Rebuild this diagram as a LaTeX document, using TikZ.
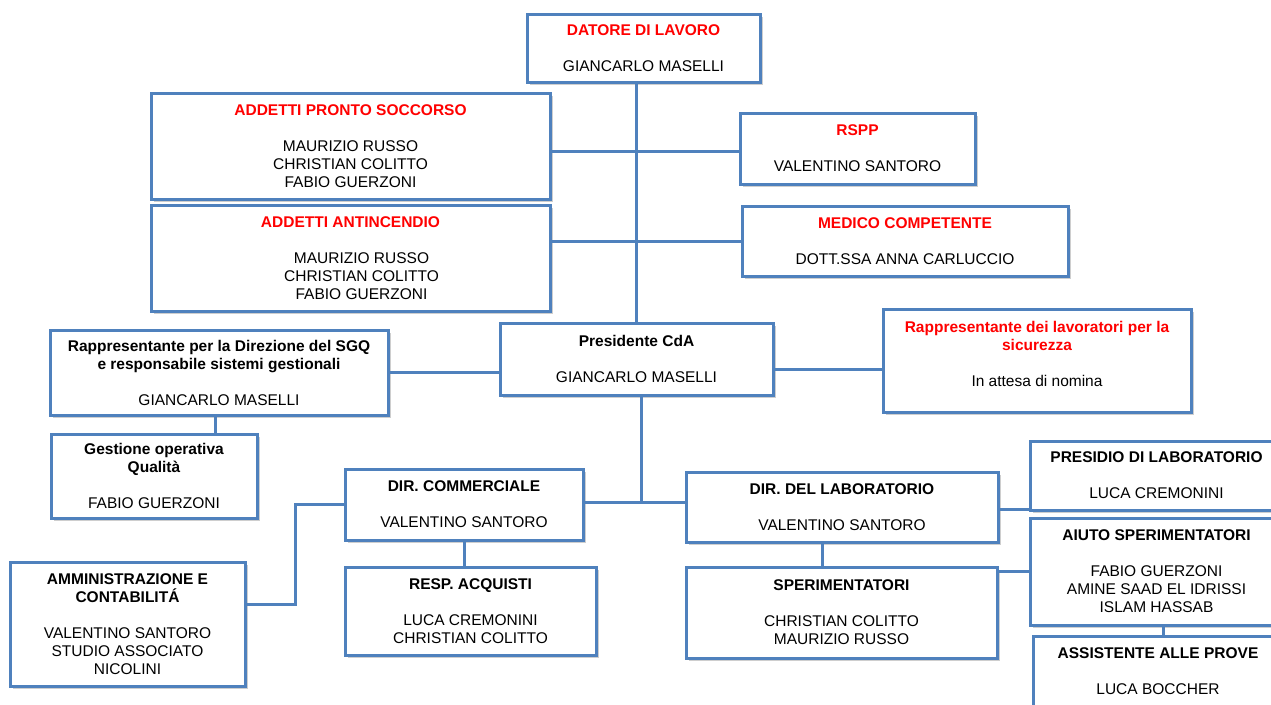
\documentclass[tikz,border=0pt]{standalone}
\usepackage{fontspec}
\setmainfont{Liberation Sans}
\usetikzlibrary{shadows}
\definecolor{boxblue}{RGB}{79,129,189}
\definecolor{titlered}{RGB}{255,0,0}
\newcommand{\rtitle}[1]{\textcolor{titlered}{\bfseries #1}}
\newcommand{\btitle}[1]{{\bfseries #1}}
\tikzset{
  box/.style={draw=boxblue, line width=3pt, fill=white, align=center, inner sep=0pt,
    font=\fontsize{15.5}{18}\selectfont,
    drop shadow={shadow xshift=3pt, shadow yshift=-3pt, fill=black!38}},
  conn/.style={draw=boxblue, line width=3pt}
}
\begin{document}
\begin{tikzpicture}[x=1pt, y=-1pt]
\useasboundingbox (0,0) rectangle (1271,704);
\fill[white] (0,0) rectangle (1271,704);
\clip (0,0) rectangle (1271,704);

% coordinates for connector routes
\coordinate (rlsy) at (0,369);
\coordinate (jn) at (641,502);
\coordinate (cb) at (295,604);
\coordinate (sgqx) at (215,0);
\coordinate (labx) at (822,0);
\coordinate (prey) at (0,509);
\coordinate (asx) at (1163,0);
\coordinate (toppy) at (0,151);

% boxes
\node[box, minimum width=233pt, minimum height=68pt] (dat) at (643.5,48)
  {\rtitle{DATORE DI LAVORO}\\[18pt] GIANCARLO MASELLI};
\node[box, minimum width=399pt, minimum height=106pt] (ps) at (350.5,146)
  {\rtitle{ADDETTI PRONTO SOCCORSO}\\[18pt] MAURIZIO RUSSO\\ CHRISTIAN COLITTO\\ FABIO GUERZONI};
\node[box, minimum width=399pt, minimum height=106pt] (anti) at (350.5,258)
  {\rtitle{ADDETTI ANTINCENDIO}\\[18pt] \hspace*{22pt}MAURIZIO RUSSO\\ \hspace*{22pt}CHRISTIAN COLITTO\\ \hspace*{22pt}FABIO GUERZONI};
\node[box, minimum width=235pt, minimum height=71pt] (rspp) at (857.5,148.5)
  {\rtitle{RSPP}\\[18pt] VALENTINO SANTORO};
\node[box, minimum width=326pt, minimum height=70pt] (med) at (905,241)
  {\rtitle{MEDICO COMPETENTE}\\[18pt] DOTT.SSA ANNA CARLUCCIO};
\node[box, minimum width=273pt, minimum height=72pt] (pres) at (636.5,359)
  {\btitle{Presidente CdA}\\[18pt] GIANCARLO MASELLI};
\node[box, minimum width=338pt, minimum height=85pt] (sgq) at (219,372.5)
  {\btitle{Rappresentante per la Direzione del SGQ}\\ \btitle{e responsabile sistemi gestionali}\\[18pt] GIANCARLO MASELLI};
\node[box, minimum width=308pt, minimum height=103pt] (rls) at (1037,360.5)
  {\rtitle{Rappresentante dei lavoratori per la}\\ \rtitle{sicurezza}\\[18pt] In attesa di nomina\\[-4pt]};
\node[box, minimum width=206pt, minimum height=84pt] (ges) at (154,476)
  {\btitle{Gestione operativa}\\ \btitle{Qualità}\\[18pt] FABIO GUERZONI};
\node[box, minimum width=238pt, minimum height=71pt] (dircomm) at (464,504.5)
  {\btitle{DIR. COMMERCIALE}\\[18pt] VALENTINO SANTORO};
\node[box, minimum width=312pt, minimum height=70pt] (dirlab) at (842,507)
  {\btitle{DIR. DEL LABORATORIO}\\[18pt] VALENTINO SANTORO};
\node[box, minimum width=235pt, minimum height=124pt] (amm) at (127.5,624)
  {\btitle{AMMINISTRAZIONE E}\\ \btitle{CONTABILITÁ}\\[18pt] VALENTINO SANTORO\\ STUDIO ASSOCIATO\\ NICOLINI};
\node[box, minimum width=251pt, minimum height=88pt] (resp) at (470.5,611)
  {\btitle{RESP. ACQUISTI}\\[18pt] LUCA CREMONINI\\ CHRISTIAN COLITTO};
\node[box, minimum width=311pt, minimum height=91pt] (sperim) at (841.5,612.5)
  {\btitle{SPERIMENTATORI}\\[18pt] CHRISTIAN COLITTO\\ MAURIZIO RUSSO};
\node[box, minimum width=253pt, minimum height=69pt] (presidio) at (1156.5,475.5)
  {\btitle{PRESIDIO DI LABORATORIO}\\[18pt] LUCA CREMONINI};
\node[box, minimum width=253pt, minimum height=107pt] (aiuto) at (1156.5,571.5)
  {\btitle{AIUTO SPERIMENTATORI}\\[18pt] FABIO GUERZONI\\ AMINE SAAD EL IDRISSI\\ ISLAM HASSAB};
\node[box, minimum width=250pt, minimum height=70pt] (assist) at (1158,671)
  {\btitle{ASSISTENTE ALLE PROVE}\\[18pt] LUCA BOCCHER};

% connectors
\draw[conn] (pres.north |- dat.south) -- (pres.north);
\draw[conn] (ps.east |- toppy) -- (rspp.west |- toppy);
\draw[conn] (anti.east |- med.west) -- (med.west);
\draw[conn] (sgq.east) -- (sgq.east -| pres.west);
\draw[conn] (pres.east |- rlsy) -- (rls.west |- rlsy);
\draw[conn] (sgq.south -| sgqx) -- (ges.north -| sgqx);
\draw[conn] (pres.south -| jn) -- (jn);
\draw[conn] (dircomm.east |- jn) -- (dirlab.west |- jn);
\draw[conn] (dircomm.west) -| (cb) -- (cb -| amm.east);
\draw[conn] (dircomm.south) -- (dircomm.south |- resp.north);
\draw[conn] (dirlab.south -| labx) -- (sperim.north -| labx);
\draw[conn] (dirlab.east |- prey) -- (presidio.west |- prey);
\draw[conn] (sperim.east |- aiuto.west) -- (aiuto.west);
\draw[conn] (aiuto.south -| asx) -- (assist.north -| asx);
\end{tikzpicture}
\end{document}
